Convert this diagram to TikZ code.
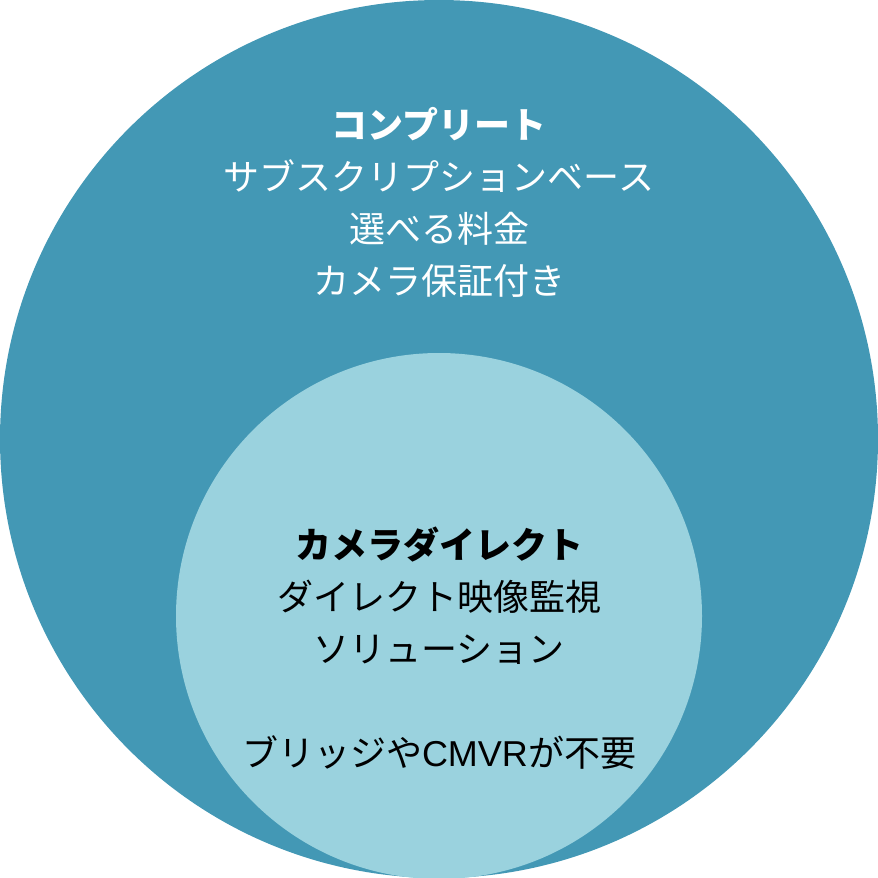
\documentclass[tikz,border=0pt]{standalone}
\usepackage{fontspec}
\setmainfont{Noto Sans CJK JP}
\newfontfamily\latinfont{Liberation Sans}
\definecolor{outerc}{RGB}{67,152,181}
\definecolor{innerc}{RGB}{154,210,222}
\tikzset{
  blocktext/.style={align=center, font=\fontsize{36}{52}\selectfont, inner sep=0pt},
}
\begin{document}
\begin{tikzpicture}[x=1pt,y=-1pt]
\useasboundingbox (0,0) rectangle (878,878);
\fill[outerc] (439,439) circle[radius=439];
\fill[innerc] (439,616) circle[radius=263];
\node[blocktext, text=white] (outer) at (439,202) {\textbf{コンプリート}\\サブスクリプションベース\\選べる料金\\カメラ保証付き};
\node[blocktext, text=black] (inner) at (439,648) {\textbf{カメラダイレクト}\\ダイレクト映像監視\\ソリューション\\[0pt]\mbox{}\\ブリッジや{\latinfont CMVR}が不要};
\end{tikzpicture}
\end{document}
